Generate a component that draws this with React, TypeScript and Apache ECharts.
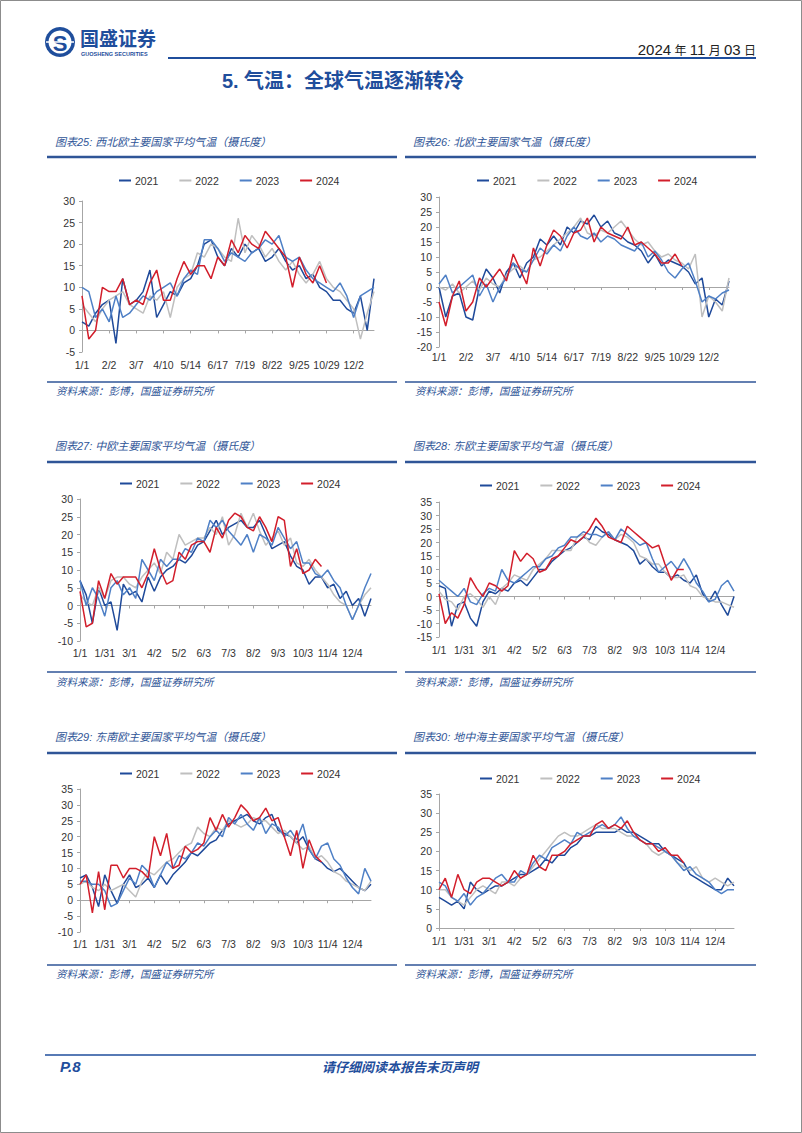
import React, { useEffect, useRef } from "react";
import * as echarts from "echarts";

// ---------- tick labels ----------
const ticksNW = ["1/1", "2/2", "3/7", "4/10", "5/14", "6/17", "7/19", "8/22", "9/25", "10/29", "12/2"];
const ticksStd = ["1/1", "1/31", "3/1", "4/2", "5/2", "6/3", "7/3", "8/2", "9/3", "10/3", "11/4", "12/4"];
const PER_TICK = 4;
const years = ["2021", "2022", "2023", "2024"];

// ---------- 图表25 西北欧 ----------
const nwe2021 = [2, 1, 4, 6, 7, -3, 12, 6, 7, 9, 14, 3, 6, 9, 8, 11, 12, 15, 20, 21, 17, 15, 19, 17, 20, 18, 19, 16, 17, 19, 16, 14, 15, 12, 13, 10, 9, 7, 7, 5, 4, 8, 0, 12];
const nwe2022 = [6, 4, 2, 5, 7, 8, 9, 6, 5, 4, 8, 7, 9, 3, 10, 12, 13, 18, 17, 20, 19, 17, 16, 26, 18, 22, 20, 17, 19, 16, 14, 16, 13, 11, 13, 16, 12, 10, 9, 7, 5, -2, 4, 9];
const nwe2023 = [10, 9, 3, 5, 2, 8, 3, 4, 6, 8, 7, 9, 10, 11, 8, 12, 14, 13, 21, 21, 19, 16, 18, 17, 16, 18, 19, 21, 20, 22, 17, 16, 17, 14, 12, 11, 10, 9, 11, 8, 3, 8, 9, 10];
const nwe2024 = [8, -2, 0, 10, 9, 9, 12, 6, 7, 6, 11, 14, 7, 7, 12, 16, 13, 15, 15, 12, 17, 15, 21, 18, 22, 20, 19, 23, 21, 19, 17, 10, 17, 13, 11, 15, 11];

// ---------- 图表26 北欧 ----------
const ne2021 = [0, -10, -3, -2, -10, -11, 0, 6, 3, -2, 5, 8, 3, 8, 10, 16, 14, 17, 14, 20, 18, 22, 21, 24, 20, 22, 18, 17, 15, 14, 12, 8, 11, 7, 9, 8, 7, 5, 1, 3, -10, -4, -6, 2];
const ne2022 = [0, -1, 1, -2, 0, 2, -1, 3, 1, 0, 4, 6, 7, 5, 9, 10, 12, 14, 16, 18, 20, 23, 18, 17, 19, 18, 20, 22, 19, 16, 14, 15, 12, 10, 11, 9, 8, 6, 11, -10, -3, -5, -8, 3];
const ne2023 = [1, 4, -2, 0, 2, 4, -3, 1, -5, 0, 3, 8, 6, 5, 9, 13, 11, 14, 12, 17, 20, 17, 16, 18, 15, 17, 16, 14, 13, 12, 15, 10, 12, 9, 5, 3, 6, 8, 2, -5, -3, -4, -2, -1];
const ne2024 = [-5, -13, -3, 2, -8, -5, 3, 0, 3, 6, 2, 11, 6, 1, 13, 7, 14, 19, 17, 13, 18, 19, 23, 15, 20, 18, 17, 16, 20, 14, 15, 13, 11, 8, 8, 11, 7];

// ---------- 图表27 中欧 ----------
const ce2021 = [7, 3, -5, 5, 0, 1, -7, 6, 3, 4, 1, 8, 4, 8, 10, 11, 13, 12, 14, 17, 18, 21, 24, 20, 22, 23, 24, 22, 22, 24, 20, 16, 17, 18, 14, 11, 10, 6, 8, 8, 5, 6, 2, 4, 0, 2, -3, 2];
const ce2022 = [3, 1, 0, 5, 2, 7, 8, 8, 6, 5, 8, 10, 12, 9, 15, 13, 20, 17, 18, 19, 19, 22, 20, 25, 17, 20, 26, 22, 26, 21, 17, 19, 21, 17, 19, 12, 11, 13, 10, 8, 6, 3, 1, 0, -4, 0, 3, 5];
const ce2023 = [7, 0, 5, 2, -3, 5, 7, 3, 5, 2, 13, 10, 7, 13, 11, 13, 13, 16, 15, 19, 18, 24, 22, 24, 21, 19, 17, 20, 15, 20, 19, 17, 22, 19, 16, 18, 12, 12, 9, 8, 10, 7, 5, 0, -4, 0, 5, 9];
const ce2024 = [4, -6, -5, 7, 2, 9, 6, 8, 8, 8, 5, 9, 16, 10, 6, 7, 15, 13, 17, 18, 18, 15, 22, 19, 24, 26, 25, 22, 21, 25, 22, 18, 25, 24, 11, 16, 9, 10, 13, 11];

// ---------- 图表28 东欧 ----------
const ee2021 = [4, 3, -11, -3, -2, -8, -11, -2, 2, 1, 3, 2, 5, 6, 4, 7, 10, 10, 13, 15, 17, 18, 20, 22, 21, 26, 24, 23, 21, 20, 19, 17, 12, 14, 11, 9, 9, 7, 8, 6, 5, 8, 1, -2, 2, -3, -7, 0];
const ee2022 = [2, -1, -2, -5, 0, 1, -1, -4, 0, -3, 3, 5, 8, 7, 6, 10, 12, 14, 17, 17, 17, 17, 22, 23, 20, 19, 22, 24, 21, 23, 22, 20, 15, 14, 12, 12, 9, 7, 7, 8, 4, 3, 0, -1, -2, -2, -3, -4];
const ee2023 = [6, 4, 2, 0, 3, -2, -3, 1, 3, 2, 10, 6, 5, 7, 9, 11, 11, 14, 15, 18, 19, 22, 22, 24, 23, 23, 22, 24, 21, 25, 23, 21, 19, 20, 14, 9, 11, 13, 10, 14, 10, 5, 2, -2, -1, 4, 6, 2];
const ee2024 = [1, -10, -6, -8, -3, 7, 3, 0, 5, 4, 2, 4, 17, 13, 16, 14, 9, 10, 14, 15, 18, 21, 20, 22, 25, 29, 26, 22, 21, 20, 26, 24, 22, 20, 18, 19, 12, 6, 10, 10];

// ---------- 图表29 东南欧 ----------
const se2021 = [7, 8, 4, -2, 8, 3, -1, 5, 8, 4, 5, 7, 4, 8, 5, 8, 10, 12, 15, 14, 16, 18, 19, 22, 24, 25, 26, 27, 25, 24, 26, 27, 22, 21, 20, 18, 20, 16, 13, 12, 10, 9, 10, 8, 6, 4, 3, 5];
const se2022 = [5, 6, 4, 3, 5, 3, 4, 5, 3, 1, 6, 9, 8, 10, 12, 13, 15, 17, 18, 23, 21, 20, 23, 22, 25, 24, 23, 24, 26, 25, 25, 23, 21, 22, 20, 18, 16, 17, 13, 14, 12, 9, 8, 6, 5, 4, 3, 6];
const se2023 = [6, 6, 5, 5, 3, -2, -1, 3, 7, 5, 11, 9, 4, 8, 12, 10, 14, 13, 15, 18, 17, 20, 22, 20, 26, 24, 27, 24, 22, 26, 21, 24, 23, 20, 22, 19, 24, 16, 13, 17, 18, 13, 11, 7, 4, 2, 10, 6];
const se2024 = [5, 8, -4, 9, -3, 11, 11, 7, 10, 10, 9, 7, 20, 14, 21, 10, 11, 17, 15, 16, 18, 26, 22, 27, 23, 26, 30, 28, 25, 26, 29, 25, 26, 20, 14, 22, 10, 19, 14, 12];

// ---------- 图表30 地中海 ----------
const med2021 = [8, 7, 6, 7, 5, 12, 10, 9, 10, 11, 11, 12, 13, 14, 14, 15, 16, 18, 17, 19, 19, 21, 22, 24, 24, 25, 25, 25, 25, 26, 25, 25, 24, 23, 22, 22, 20, 19, 18, 17, 14, 13, 12, 11, 10, 10, 13, 11];
const med2022 = [10, 10, 8, 7, 6, 8, 10, 11, 10, 9, 12, 12, 11, 13, 14, 16, 18, 20, 22, 24, 25, 24, 24, 25, 26, 27, 26, 26, 26, 25, 24, 24, 23, 22, 20, 19, 20, 19, 17, 16, 15, 16, 13, 12, 13, 12, 11, 12];
const med2023 = [12, 11, 8, 7, 9, 6, 8, 9, 11, 13, 14, 12, 12, 15, 14, 17, 19, 18, 21, 22, 23, 22, 25, 24, 25, 26, 27, 26, 27, 29, 26, 24, 23, 22, 22, 21, 20, 19, 17, 15, 16, 14, 13, 12, 10, 9, 10, 10];
const med2024 = [10, 13, 8, 14, 10, 9, 12, 13, 13, 12, 11, 12, 15, 13, 14, 19, 16, 15, 19, 19, 20, 22, 23, 24, 24, 27, 28, 26, 27, 26, 28, 25, 23, 22, 22, 20, 21, 19, 19, 17];

// ---------- styling ----------
const FONT = "'Liberation Sans', Arial, sans-serif";
const CJK = "'Noto Sans CJK SC', sans-serif";
const MIX = "'Liberation Sans', 'Noto Sans CJK SC', sans-serif";
const BLUE = "#1F4E9C";
const TBLUE = "#2F5597";
const lineColors = ["#1F4A9A", "#BFBFBF", "#4F80C6", "#D21E2B"];
const AXIS = "#A6A6A6";

type Cfg = {
  title: string;
  ticks: string[];
  n: number;
  series: number[][];
  min: number;
  max: number;
  grid: { left: number; top: number; width: number; height: number };
  legend: { left: number; top: number };
  labelMargin: number;
};

const cfgs: Cfg[] = [
  { title: "图表25: 西北欧主要国家平均气温（摄氏度）", ticks: ticksNW, n: 44, series: [nwe2021, nwe2022, nwe2023, nwe2024], min: -5, max: 30, grid: { left: 82, top: 201, width: 292, height: 151 }, legend: { left: 119, top: 175 }, labelMargin: 7 },
  { title: "图表26: 北欧主要国家气温（摄氏度）", ticks: ticksNW, n: 44, series: [ne2021, ne2022, ne2023, ne2024], min: -20, max: 30, grid: { left: 439, top: 197, width: 290, height: 150 }, legend: { left: 477, top: 175 }, labelMargin: 4 },
  { title: "图表27: 中欧主要国家平均气温（摄氏度）", ticks: ticksStd, n: 48, series: [ce2021, ce2022, ce2023, ce2024], min: -10, max: 30, grid: { left: 80, top: 499, width: 291, height: 142 }, legend: { left: 120, top: 478 }, labelMargin: 6 },
  { title: "图表28: 东欧主要国家平均气温（摄氏度）", ticks: ticksStd, n: 48, series: [ee2021, ee2022, ee2023, ee2024], min: -15, max: 35, grid: { left: 439, top: 502, width: 295, height: 135 }, legend: { left: 480, top: 480 }, labelMargin: 7 },
  { title: "图表29: 东南欧主要国家平均气温（摄氏度）", ticks: ticksStd, n: 48, series: [se2021, se2022, se2023, se2024], min: -10, max: 35, grid: { left: 80, top: 789, width: 291, height: 143 }, legend: { left: 120, top: 768 }, labelMargin: 6 },
  { title: "图表30: 地中海主要国家平均气温（摄氏度）", ticks: ticksStd, n: 48, series: [med2021, med2022, med2023, med2024], min: 0, max: 35, grid: { left: 439, top: 794, width: 295, height: 134 }, legend: { left: 480, top: 773 }, labelMargin: 7 },
];

function buildCats(ticks: string[], n: number): string[] {
  const out: string[] = [];
  for (let i = 0; i < n; i++) {
    const t = ticks[Math.floor(i / PER_TICK)] ?? "end";
    out.push(i % PER_TICK === 0 ? t : `${t}|${i % PER_TICK}`);
  }
  return out;
}

function txt(x: number, y: number, text: string, font: string, fill: string, align = "left", extra: any = {}) {
  return {
    type: "text",
    x,
    y,
    silent: true,
    style: { text, font, fill, align, verticalAlign: "middle", textAlign: align, textVerticalAlign: "middle", ...extra },
  };
}
function hline(x1: number, x2: number, y: number, w: number, color: string) {
  return { type: "line", silent: true, shape: { x1, y1: y, x2, y2: y }, style: { stroke: color, lineWidth: w } };
}

function buildOption(): any {
  const grid: any[] = [];
  const xAxis: any[] = [];
  const yAxis: any[] = [];
  const series: any[] = [];
  const legend: any[] = [];

  cfgs.forEach((c, g) => {
    const cats = buildCats(c.ticks, c.n);
    grid.push({ ...c.grid, containLabel: false });
    xAxis.push({
      type: "category",
      gridIndex: g,
      data: cats,
      boundaryGap: false,
      position: "bottom",
      axisLine: { show: false, onZero: false },
      axisTick: { show: false },
      splitLine: { show: false },
      axisLabel: {
        interval: PER_TICK - 1,
        margin: c.labelMargin,
        fontSize: 10.5,
        color: "#333",
        fontFamily: FONT,
        formatter: (v: string) => v.split("|")[0],
      },
    });
    xAxis.push({
      type: "category",
      gridIndex: g,
      data: cats,
      boundaryGap: false,
      position: "bottom",
      axisLine: { show: true, onZero: true, lineStyle: { color: AXIS, width: 1 } },
      axisTick: { show: true, interval: PER_TICK - 1, length: 3, lineStyle: { color: AXIS } },
      axisLabel: { show: false },
      splitLine: { show: false },
    });
    yAxis.push({
      type: "value",
      gridIndex: g,
      min: c.min,
      max: c.max,
      interval: 5,
      axisLine: { show: true, onZero: false, lineStyle: { color: AXIS, width: 1 } },
      axisTick: { show: true, length: 3, lineStyle: { color: AXIS } },
      splitLine: { show: false },
      axisLabel: { margin: 7, fontSize: 10.5, color: "#333", fontFamily: FONT },
    });
    legend.push({
      left: c.legend.left,
      top: c.legend.top,
      data: years,
      icon: "rect",
      itemWidth: 12,
      itemHeight: 2,
      itemGap: 21,
      padding: 0,
      selectedMode: false,
      textStyle: { fontSize: 10.5, color: "#333", fontFamily: FONT, padding: [0, 0, 0, -1] },
    });
    c.series.forEach((data, k) => {
      series.push({
        type: "line",
        name: years[k],
        xAxisIndex: g * 2,
        yAxisIndex: g,
        data,
        symbol: "none",
        showSymbol: false,
        lineStyle: { width: 1.5, color: lineColors[k] },
        itemStyle: { color: lineColors[k] },
        z: 2 + k,
      });
    });
  });

  const graphic: any[] = [
    { type: "rect", silent: true, shape: { x: 0.5, y: 0.5, width: 801, height: 1132 }, style: { fill: "none", stroke: "#8C8C8C", lineWidth: 1 } },
    // logo
    { type: "circle", silent: true, shape: { cx: 60, cy: 42, r: 15 }, style: { fill: BLUE } },
    { type: "circle", silent: true, shape: { cx: 60, cy: 42, r: 11.5 }, style: { fill: "#fff" } },
    txt(60, 43, "S", `bold 22px ${FONT}`, BLUE, "center"),
    hline(46, 74, 42, 1.5, "#fff"),
    txt(80, 37, "国盛证券", `bold 19px ${CJK}`, BLUE),
    txt(81, 54, "GUOSHENG SECURITIES", `bold 5.5px ${FONT}`, BLUE),
    // date
    {
      type: "text",
      x: 756,
      y: 49,
      silent: true,
      style: {
        text: "{n|2024} {c|年} {n|11} {c|月} {n|03} {c|日}",
        align: "right",
        verticalAlign: "middle",
        textAlign: "right",
        textVerticalAlign: "middle",
        rich: {
          n: { fontSize: 15, fontFamily: FONT, fill: "#222", color: "#222" },
          c: { fontSize: 12, fontFamily: CJK, fill: "#222", color: "#222" },
        },
      },
    },
    hline(168, 756, 58, 2, BLUE),
    txt(343, 81, "5. 气温：全球气温逐渐转冷", `bold 20px ${MIX}`, BLUE, "center"),
    // footer
    hline(45, 756, 1055, 1.5, BLUE),
    txt(60, 1066, "P.8", `italic bold 15px ${FONT}`, BLUE),
    txt(400, 1066, "请仔细阅读本报告末页声明", `italic bold 13px ${CJK}`, BLUE, "center"),
  ];

  const rowTitleY = [142, 446, 737];
  const rowTitleLine = [157, 462, 753];
  const rowSrcLine = [382, 672, 965];
  const rowSrcY = [390, 681, 973];
  cfgs.forEach((c, g) => {
    const row = Math.floor(g / 2);
    const right = g % 2 === 1;
    const x0 = right ? 405 : 47;
    const x1 = right ? 756 : 397;
    const tx = right ? 413 : 55;
    graphic.push(txt(tx, rowTitleY[row], c.title, `italic 11px ${MIX}`, TBLUE));
    graphic.push(hline(x0, x1, rowTitleLine[row], 2.5, TBLUE));
    graphic.push(hline(x0, x1, rowSrcLine[row], 1.5, TBLUE));
    graphic.push(txt(right ? 415 : 56, rowSrcY[row], "资料来源：彭博，国盛证券研究所", `italic 10.5px ${CJK}`, TBLUE));
  });

  return {
    animation: false,
    backgroundColor: "#fff",
    grid,
    xAxis,
    yAxis,
    legend,
    series,
    graphic,
  };
}

export default function App() {
  const ref = useRef<HTMLDivElement>(null);
  useEffect(() => {
    if (!ref.current) return;
    const chart = echarts.init(ref.current, null, { renderer: "svg" });
    chart.setOption(buildOption());
    return () => chart.dispose();
  }, []);
  return (
    <div
      ref={ref}
      style={{ position: "absolute", left: 0, top: 0, width: 802, height: 1133, background: "#fff" }}
    />
  );
}
